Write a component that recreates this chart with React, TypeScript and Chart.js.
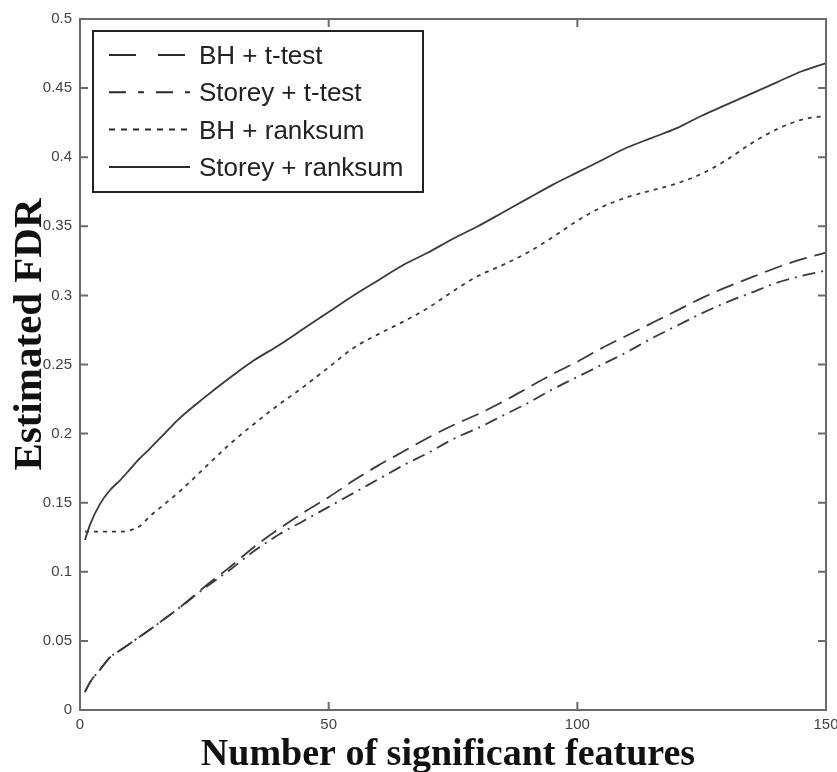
import { useEffect, useRef } from 'react';
import { Chart, registerables } from 'chart.js';

Chart.register(...registerables);

// Number of significant features (x positions where values were read)
const featureCounts = [1, 2, 4, 6, 8, 10, 12, 14, 17, 20, 25, 30, 35, 40, 45, 50, 55, 60, 65, 70, 75, 80, 85, 90, 95, 100, 105, 110, 115, 120, 125, 130, 135, 140, 145, 150];

// Estimated FDR per method
const bhTtest = [0.013, 0.020, 0.029, 0.038, 0.043, 0.048, 0.053, 0.058, 0.066, 0.074, 0.089, 0.103, 0.118, 0.131, 0.143, 0.154, 0.166, 0.177, 0.187, 0.197, 0.206, 0.214, 0.223, 0.233, 0.243, 0.252, 0.262, 0.271, 0.280, 0.289, 0.298, 0.306, 0.313, 0.320, 0.326, 0.331];
const storeyTtest = [0.013, 0.020, 0.029, 0.038, 0.043, 0.048, 0.053, 0.058, 0.066, 0.074, 0.088, 0.101, 0.115, 0.127, 0.137, 0.147, 0.157, 0.167, 0.177, 0.186, 0.196, 0.204, 0.213, 0.222, 0.232, 0.241, 0.250, 0.259, 0.269, 0.278, 0.287, 0.295, 0.302, 0.309, 0.314, 0.318];
const bhRanksum = [0.129, 0.129, 0.129, 0.129, 0.129, 0.130, 0.133, 0.140, 0.149, 0.158, 0.175, 0.192, 0.207, 0.221, 0.234, 0.248, 0.262, 0.272, 0.281, 0.291, 0.303, 0.314, 0.322, 0.331, 0.342, 0.354, 0.364, 0.371, 0.376, 0.381, 0.388, 0.398, 0.410, 0.420, 0.427, 0.430];
const storeyRanksum = [0.123, 0.134, 0.149, 0.159, 0.166, 0.174, 0.182, 0.189, 0.200, 0.211, 0.226, 0.240, 0.253, 0.264, 0.276, 0.288, 0.300, 0.311, 0.322, 0.331, 0.341, 0.350, 0.360, 0.370, 0.380, 0.389, 0.398, 0.407, 0.414, 0.421, 0.430, 0.438, 0.446, 0.454, 0.462, 0.468];

const seriesLabels = ['BH + t-test', 'Storey + t-test', 'BH + ranksum', 'Storey + ranksum'];

const xAxisTitle = 'Number of significant features';
const yAxisTitle = 'Estimated FDR';

const LINE_COLOR = '#3a3a3a';

const toPoints = (ys: number[]) => featureCounts.map((x, i) => ({ x, y: ys[i] }));

const framePlugin = {
  id: 'matlabFrame',
  afterDatasetsDraw(chart: any) {
    const { ctx, chartArea } = chart;
    const { left, right, top, bottom } = chartArea;
    const xs = chart.scales.x;
    const ys = chart.scales.y;
    ctx.save();
    ctx.strokeStyle = '#6a6a6a';
    ctx.lineWidth = 2;
    ctx.strokeRect(left, top, right - left, bottom - top);
    ctx.beginPath();
    const tl = 8;
    ys.ticks.forEach((t: any) => {
      const p = ys.getPixelForValue(t.value);
      ctx.moveTo(left, p);
      ctx.lineTo(left + tl, p);
      ctx.moveTo(right, p);
      ctx.lineTo(right - tl, p);
    });
    xs.ticks.forEach((t: any) => {
      const p = xs.getPixelForValue(t.value);
      ctx.moveTo(p, bottom);
      ctx.lineTo(p, bottom - tl);
      ctx.moveTo(p, top);
      ctx.lineTo(p, top + tl);
    });
    ctx.stroke();
    ctx.restore();
  },
};

const legendPlugin = {
  id: 'boxLegend',
  afterDraw(chart: any) {
    const { ctx, chartArea } = chart;
    const x0 = chartArea.left + 13;
    const y0 = chartArea.top + 12;
    const w = 330;
    const h = 161;
    ctx.save();
    ctx.fillStyle = '#ffffff';
    ctx.fillRect(x0, y0, w, h);
    ctx.strokeStyle = '#222222';
    ctx.lineWidth = 2;
    ctx.strokeRect(x0, y0, w, h);
    ctx.font = '26px "Liberation Sans", Arial, sans-serif';
    ctx.textBaseline = 'middle';
    ctx.textAlign = 'left';
    chart.data.datasets.forEach((ds: any, i: number) => {
      const cy = y0 + 26 + i * 37.3;
      ctx.beginPath();
      ctx.strokeStyle = '#2a2a2a';
      ctx.lineWidth = 2;
      ctx.setLineDash(ds.legendDash || []);
      ctx.moveTo(x0 + 16, cy - 2);
      ctx.lineTo(x0 + 97, cy - 2);
      ctx.stroke();
      ctx.setLineDash([]);
      ctx.fillStyle = '#222222';
      ctx.fillText(ds.label, x0 + 106, cy);
    });
    ctx.restore();
  },
};

const titlePlugin = {
  id: 'axisTitles',
  afterDraw(chart: any) {
    const { ctx, chartArea } = chart;
    ctx.save();
    ctx.fillStyle = '#111111';
    ctx.textAlign = 'center';
    ctx.textBaseline = 'alphabetic';
    ctx.font = 'bold 38px "Liberation Serif", "Times New Roman", serif';
    ctx.fillText(xAxisTitle, (chartArea.left + chartArea.right) / 2 - 5, chartArea.bottom + 55);
    ctx.font = 'bold 41px "Liberation Serif", "Times New Roman", serif';
    ctx.translate(chartArea.left - 39, (chartArea.top + chartArea.bottom) / 2 - 30);
    ctx.rotate(-Math.PI / 2);
    ctx.fillText(yAxisTitle, 0, 0);
    ctx.restore();
  },
};

export default function App() {
  const canvasRef = useRef<HTMLCanvasElement | null>(null);

  useEffect(() => {
    document.body.style.margin = '0';
    const canvas = canvasRef.current;
    if (!canvas) return;
    const common = {
      borderColor: LINE_COLOR,
      borderWidth: 1.8,
      pointRadius: 0,
      fill: false,
      cubicInterpolationMode: 'monotone' as const,
    };
    const chart = new Chart(canvas, {
      type: 'line',
      data: {
        datasets: [
          { ...common, label: seriesLabels[0], data: toPoints(bhTtest), borderDash: [18, 8], legendDash: [27, 22] } as any,
          { ...common, label: seriesLabels[1], data: toPoints(storeyTtest), borderDash: [13, 6, 2, 6], legendDash: [17, 12, 6, 12] } as any,
          { ...common, label: seriesLabels[2], data: toPoints(bhRanksum), borderDash: [4, 5], legendDash: [6, 6] } as any,
          { ...common, label: seriesLabels[3], data: toPoints(storeyRanksum), borderDash: [], legendDash: [] } as any,
        ],
      },
      options: {
        animation: false,
        responsive: true,
        maintainAspectRatio: false,
        layout: { padding: { top: 19, right: 11, left: 0, bottom: 0 } },
        plugins: {
          legend: { display: false },
          tooltip: { enabled: false },
          title: { display: false },
        },
        scales: {
          x: {
            type: 'linear',
            min: 0,
            max: 150,
            grid: { display: false, drawTicks: false },
            border: { display: false },
            ticks: {
              stepSize: 50,
              padding: 6,
              color: '#444444',
              font: { family: '"Liberation Sans", Arial, sans-serif', size: 15 },
              maxRotation: 0,
            },
            afterFit: (s: any) => {
              s.height = 62;
              s.paddingLeft = 0;
              s.paddingRight = 0;
            },
          },
          y: {
            type: 'linear',
            min: 0,
            max: 0.5,
            grid: { display: false, drawTicks: false },
            border: { display: false },
            ticks: {
              stepSize: 0.05,
              padding: 8,
              color: '#444444',
              font: { family: '"Liberation Sans", Arial, sans-serif', size: 15 },
              callback: (v: any) => String(Number(Number(v).toFixed(2))),
            },
            afterFit: (s: any) => {
              s.width = 80;
              s.paddingTop = 0;
              s.paddingBottom = 0;
            },
          },
        },
      },
      plugins: [framePlugin, legendPlugin, titlePlugin],
    });
    return () => chart.destroy();
  }, []);

  return (
    <div style={{ width: 837, height: 772, position: 'relative', background: '#ffffff' }}>
      <canvas ref={canvasRef} />
    </div>
  );
}
